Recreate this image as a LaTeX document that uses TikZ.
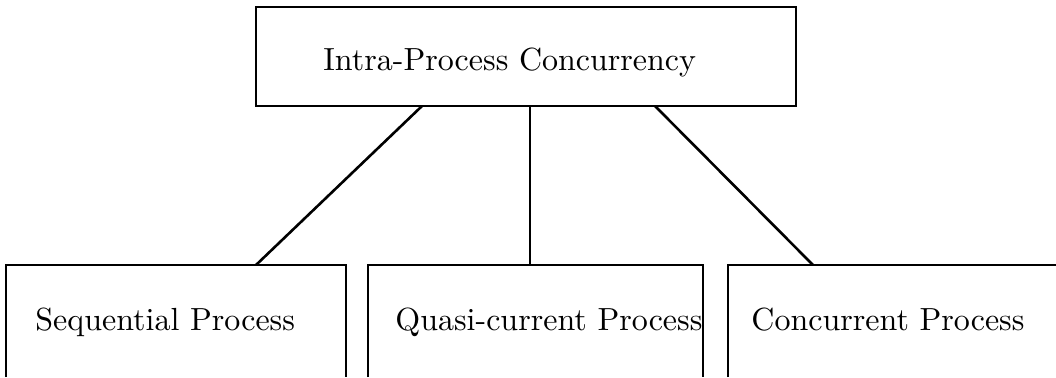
\documentclass[tikz,border=0pt]{standalone}
\newcommand{\biglbl}[1]{\scalebox{1.6}{\fontsize{10}{12}\selectfont #1}}
\begin{document}
\begin{tikzpicture}[x=0.5pt,y=-0.5pt,
  boxline/.style={line width=1.1pt, line join=miter},
  conn/.style={line width=1.3pt},
  lbl/.style={inner sep=0pt, anchor=base west}]
\useasboundingbox (0,0) rectangle (1056,377);
% top box
\node[draw, boxline, minimum width=270pt, minimum height=49.5pt, inner sep=0pt] (top) at (526,56.5) {};
\node[lbl] (toplbl) at (323,70) {\biglbl{Intra-Process Concurrency}};
% bottom boxes (cut off at the bottom)
\coordinate (seqtop) at (256,265);
\coordinate (quatop) at (530,265);
\coordinate (contop) at (813,265);
\draw[boxline] (6,377) -- (6,265) -- (346,265) -- (346,377);
\draw[boxline] (368,377) -- (368,265) -- (703,265) -- (703,377);
\draw[boxline] (728,377) -- (728,265) -- (1060,265);
\node[lbl] (seq) at (35,330) {\biglbl{Sequential Process}};
\node[lbl] (qua) at (395,330) {\biglbl{Quasi-current Process}};
\node[lbl] (con) at (751,330) {\biglbl{Concurrent Process}};
% connectors
\coordinate (t1) at (422,106);
\coordinate (t2) at (530,106);
\coordinate (t3) at (655,106);
\draw[conn] (t1) -- (seqtop);
\draw[conn] (t2) -- (quatop);
\draw[conn] (t3) -- (contop);
\end{tikzpicture}
\end{document}
